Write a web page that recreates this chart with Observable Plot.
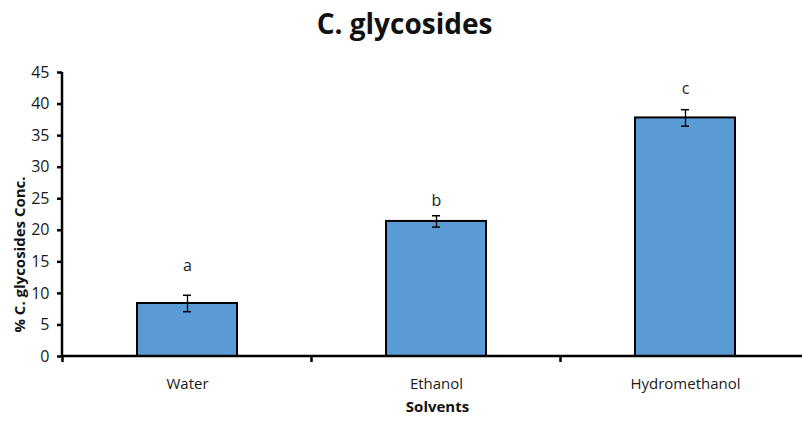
<!DOCTYPE html>
<html><head><meta charset="utf-8">
<script src="https://cdn.jsdelivr.net/npm/d3@7"></script>
<script src="https://cdn.jsdelivr.net/npm/@observablehq/plot@0.6"></script>
<style>body{margin:0;background:#fff;} svg{display:block;}</style>
</head><body><div id="chart"></div>
<script>
const solvents = ["Water", "Ethanol", "Hydromethanol"];
const means = [8.4, 21.4, 37.8];
const errors = [1.3, 0.9, 1.3];
const letters = ["a", "b", "c"];
const letterY = [14.4, 24.7, 42.4];
const yTicks = [0, 5, 10, 15, 20, 25, 30, 35, 40, 45];

const data = solvents.map((s, i) => ({solvent: s, mean: means[i], err: errors[i], letter: letters[i], ly: letterY[i]}));
const font = "'Open Sans', 'Liberation Sans', sans-serif";

const axes = (index, scales, values, dims) => {
  const g = d3.create("svg:g");
  const x = scales.x, y = scales.y;
  const step = x.step(), bw = x.bandwidth();
  const y0 = y(0);
  const left = dims.marginLeft;
  const right = dims.width;
  g.append("line").attr("x1", left).attr("x2", right).attr("y1", y0).attr("y2", y0).attr("stroke", "#000").attr("stroke-width", 2.5);
  g.append("line").attr("x1", left).attr("x2", left).attr("y1", y(45)).attr("y2", y0 + 1).attr("stroke", "#000").attr("stroke-width", 2.5);
  const bounds = solvents.map(s => x(s) + bw / 2 - step / 2);
  for (const b of bounds) {
    g.append("line").attr("x1", b).attr("x2", b).attr("y1", y0).attr("y2", y0 + 6).attr("stroke", "#000").attr("stroke-width", 2.5);
  }
  return g.node();
};

const plot = Plot.plot({
  width: 802,
  height: 427,
  marginTop: 72,
  marginBottom: 71,
  marginLeft: 62,
  marginRight: 0,
  style: {fontFamily: font, background: "#fff"},
  x: {domain: solvents, range: [62, 810.5], paddingInner: 0.6, paddingOuter: 0.3, label: null},
  y: {domain: [0, 45], label: null},
  marks: [
    Plot.barY(data, {x: "solvent", y: "mean", fill: "#5b9bd5", stroke: "#000", strokeWidth: 2}),
    Plot.ruleX(data, {x: "solvent", y1: d => d.mean - d.err, y2: d => d.mean + d.err, stroke: "#000", strokeWidth: 1.3}),
    Plot.tickY(data, {x: "solvent", y: d => d.mean - d.err, stroke: "#000", strokeWidth: 1.5, inset: 46}),
    Plot.tickY(data, {x: "solvent", y: d => d.mean + d.err, stroke: "#000", strokeWidth: 1.5, inset: 46}),
    Plot.text(data, {x: "solvent", y: "ly", text: "letter", fontSize: 16, fill: "#222"}),
    Plot.axisY({ticks: yTicks, tickSize: 5, tickPadding: 8, fontSize: 16, color: "#1a1a1a", stroke: "#000", strokeWidth: 2.5, label: null}),
    Plot.axisX({tickSize: 0, tickPadding: 22, fontSize: 15, color: "#1a1a1a", label: null}),
    axes,
    Plot.text(["C. glycosides"], {frameAnchor: "top", dx: -28, dy: -58, text: d => d, fontSize: 28, fontWeight: "bold", fill: "#111"}),
    Plot.text(["Solvents"], {frameAnchor: "bottom", dx: 5, dy: 55, text: d => d, fontSize: 15, fontWeight: "bold", fill: "#111"}),
    Plot.text(["% C. glycosides Conc."], {frameAnchor: "left", textAnchor: "middle", dx: -42, dy: 40, rotate: -90, text: d => d, fontSize: 15, fontWeight: "bold", fill: "#111"})
  ]
});
document.getElementById("chart").appendChild(plot);
</script>
</body></html>
